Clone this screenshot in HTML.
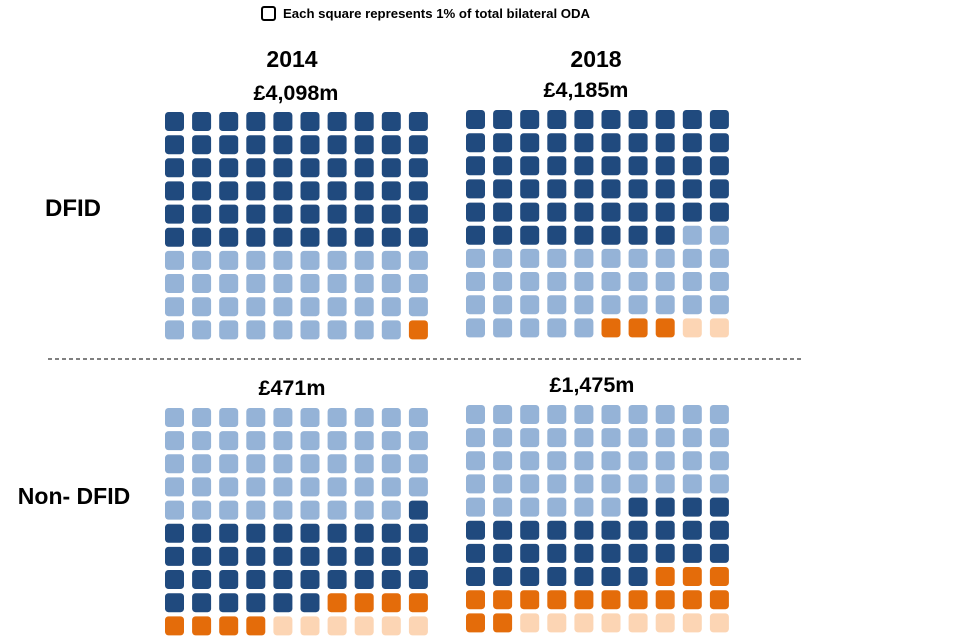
<!DOCTYPE html>
<html><head><meta charset="utf-8"><style>
html,body{margin:0;padding:0;background:#fff;}
svg{display:block;font-family:"Liberation Sans",Arial,sans-serif;}
</style></head><body>
<svg id="chart" width="960" height="640" viewBox="0 0 960 640">
  <rect x="262" y="7" width="13" height="13" rx="2" fill="none" stroke="#000" stroke-width="2"/>
  <text x="283" y="18" font-size="13.2" font-weight="bold">Each square represents 1% of total bilateral ODA</text>
  <text x="292" y="67" font-size="23" font-weight="bold" text-anchor="middle">2014</text>
  <text x="596" y="67" font-size="23" font-weight="bold" text-anchor="middle">2018</text>
  <text x="296" y="100" font-size="21.5" font-weight="bold" text-anchor="middle">£4,098m</text>
  <text x="586" y="97" font-size="21.5" font-weight="bold" text-anchor="middle">£4,185m</text>
  <text x="73" y="216" font-size="24" font-weight="bold" text-anchor="middle">DFID</text>
  <line x1="48" y1="359" x2="803" y2="359" stroke="#000" stroke-width="1" stroke-dasharray="4,3"/>
  <text x="292" y="395" font-size="21.5" font-weight="bold" text-anchor="middle">£471m</text>
  <text x="592" y="392" font-size="21.5" font-weight="bold" text-anchor="middle">£1,475m</text>
  <text x="74" y="504" font-size="23" font-weight="bold" text-anchor="middle">Non- DFID</text>
  <g id="grids"></g>
</svg>
<script>
// Category order: dark blue, light blue, orange, peach (counts of squares, each 1%)
const categories = ["dark", "light", "orange", "peach"];
const dfid2014 = [60, 39, 1, 0];
const dfid2018 = [58, 37, 3, 2];
const nonDfid2014 = [49, 37, 8, 6];   // light first, then dark, orange, peach
const nonDfid2018 = [46, 31, 15, 8];
const dfidOrder = ["dark", "light", "orange", "peach"];
const nonDfidOrder = ["light", "dark", "orange", "peach"];

const colors = {dark:"#204a7e", light:"#95b3d7", orange:"#e46c0a", peach:"#fcd5b4"};
const grids = [
  {name:"dfid-2014", values:dfid2014, order:dfidOrder, x:165, y:112},
  {name:"dfid-2018", values:dfid2018, order:dfidOrder, x:466, y:110},
  {name:"non-dfid-2014", values:nonDfid2014, order:nonDfidOrder, x:165, y:408},
  {name:"non-dfid-2018", values:nonDfid2018, order:nonDfidOrder, x:466, y:405}
];
const NS = "http://www.w3.org/2000/svg";
const root = document.getElementById("grids");
const pitchX = 27.1, pitchY = 23.15, w = 19, h = 19;
grids.forEach(g => {
  const grp = document.createElementNS(NS, "g");
  
  
  root.appendChild(grp);
  let idx = 0;
  g.values.forEach((count, ci) => {
    const cat = g.order[ci];
    for (let k = 0; k < count; k++) {
      const r = Math.floor(idx / 10), c = idx % 10;
      const rect = document.createElementNS(NS, "rect");
      rect.setAttribute("x", (g.x + c * pitchX).toFixed(1));
      rect.setAttribute("y", (g.y + r * pitchY).toFixed(1));
      rect.setAttribute("width", w);
      rect.setAttribute("height", h);
      rect.setAttribute("rx", 3.5);
      rect.setAttribute("fill", colors[cat]);
      
      
      grp.appendChild(rect);
      idx++;
    }
  });
});
</script>
</body></html>
